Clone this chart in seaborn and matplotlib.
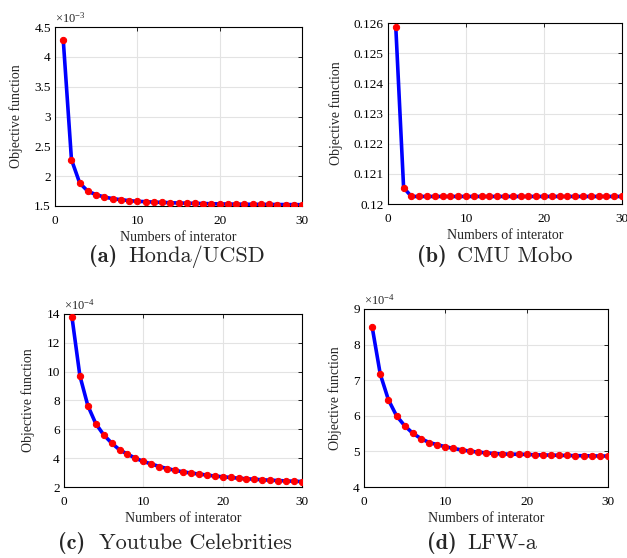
import numpy as np
import matplotlib
matplotlib.use("Agg")
import matplotlib.pyplot as plt
import seaborn as sns
from matplotlib.ticker import FuncFormatter

# iterations 1..30
iters = list(range(1, 31))

# (a) Honda/UCSD, x10^-3
honda = [4.288, 2.277, 1.885, 1.746, 1.690, 1.650, 1.623, 1.606, 1.590, 1.578,
         1.573, 1.565, 1.560, 1.555, 1.550, 1.547, 1.544, 1.541, 1.538, 1.535,
         1.533, 1.531, 1.530, 1.528, 1.527, 1.526, 1.525, 1.524, 1.523, 1.522]

# (b) CMU Mobo
mobo = [0.12586, 0.12054] + [0.12025] * 28

# (c) Youtube Celebrities, x10^-4
youtube = [13.8, 9.72, 7.65, 6.40, 5.62, 5.05, 4.58, 4.28, 4.00, 3.77,
           3.60, 3.42, 3.28, 3.16, 3.05, 2.97, 2.90, 2.83, 2.76, 2.71,
           2.66, 2.61, 2.57, 2.54, 2.50, 2.47, 2.45, 2.42, 2.40, 2.38]

# (d) LFW-a, x10^-4
lfw = [8.50, 7.17, 6.45, 6.00, 5.72, 5.51, 5.36, 5.25, 5.19, 5.13,
       5.085, 5.04, 5.01, 4.98, 4.96, 4.94, 4.93, 4.92, 4.92, 4.915,
       4.905, 4.90, 4.895, 4.89, 4.885, 4.88, 4.878, 4.875, 4.87, 4.87]

sns.set_style("whitegrid")
plt.rcParams["font.family"] = ["Liberation Serif", "DejaVu Serif"]
plt.rcParams["mathtext.fontset"] = "custom"
plt.rcParams["mathtext.rm"] = "Liberation Serif"
plt.rcParams["mathtext.it"] = "Liberation Serif:italic"

W, H = 627, 558
fig = plt.figure(figsize=(W / 100, H / 100), dpi=100)


def add_ax(left, top, right, bottom):
    return fig.add_axes([left / W, 1 - bottom / H, (right - left) / W, (bottom - top) / H])


panels = [
    # data, box (px), ylim, yticks, exponent, caption letter, caption name, caption pos
    (honda, (55, 27, 302, 206), (1.5, 4.5), np.arange(1.5, 4.51, 0.5), "-3", "(a)", "Honda/UCSD", (117, 128, 262)),
    (mobo, (388, 23, 622, 204), (0.12, 0.126), np.arange(0.12, 0.12601, 0.001), None, "(b)", "CMU Mobo", (447, 457, 262)),
    (youtube, (64, 314, 302, 487), (2, 14), np.arange(2, 14.1, 2), "-4", "(c)", "Youtube Celebrities", (85, 99, 549)),
    (lfw, (364, 309, 608, 487), (4, 9), np.arange(4, 9.1, 1), "-4", "(d)", "LFW-a", (457, 467, 549)),
]

for vals, box, ylim, yticks, expo, letter, name, cpos in panels:
    ax = add_ax(*box)
    sns.lineplot(x=iters, y=vals, ax=ax, color="blue", linewidth=2.6,
                 marker="o", markersize=4.5, markerfacecolor="red",
                 markeredgecolor="red", zorder=3)
    ax.set_xlim(0, 30)
    ax.set_ylim(*ylim)
    ax.set_xticks([0, 10, 20, 30])
    ax.set_yticks(yticks)
    ax.yaxis.set_major_formatter(FuncFormatter(lambda v, p: "%g" % round(v, 4)))
    ax.grid(True, color="#e3e3e3", linewidth=0.8)
    for s in ax.spines.values():
        s.set_color("black")
        s.set_linewidth(0.8)
    ax.tick_params(direction="in", length=3, width=0.6, top=True, right=True,
                   labelsize=9.5, colors="black")
    ax.tick_params(axis="x", pad=6.5)
    ax.tick_params(axis="y", pad=3)
    ax.set_xlabel("Numbers of interator", fontsize=10, labelpad=3)
    ax.set_ylabel("Objective function", fontsize=10, labelpad=8)
    if expo:
        ax.text(0.0, 1.01, r"$\times10^{%s}$" % expo, transform=ax.transAxes,
                fontsize=9, ha="left", va="bottom")
    # caption: bold letter + roman name, Computer Modern look
    fig.text(cpos[0] / W, 1 - cpos[2] / H, letter, fontsize=16, family="cmb10",
             ha="right", va="baseline")
    fig.text(cpos[1] / W, 1 - cpos[2] / H, name, fontsize=16, family="cmr10",
             ha="left", va="baseline")

fig.savefig("out.png", dpi=100)
